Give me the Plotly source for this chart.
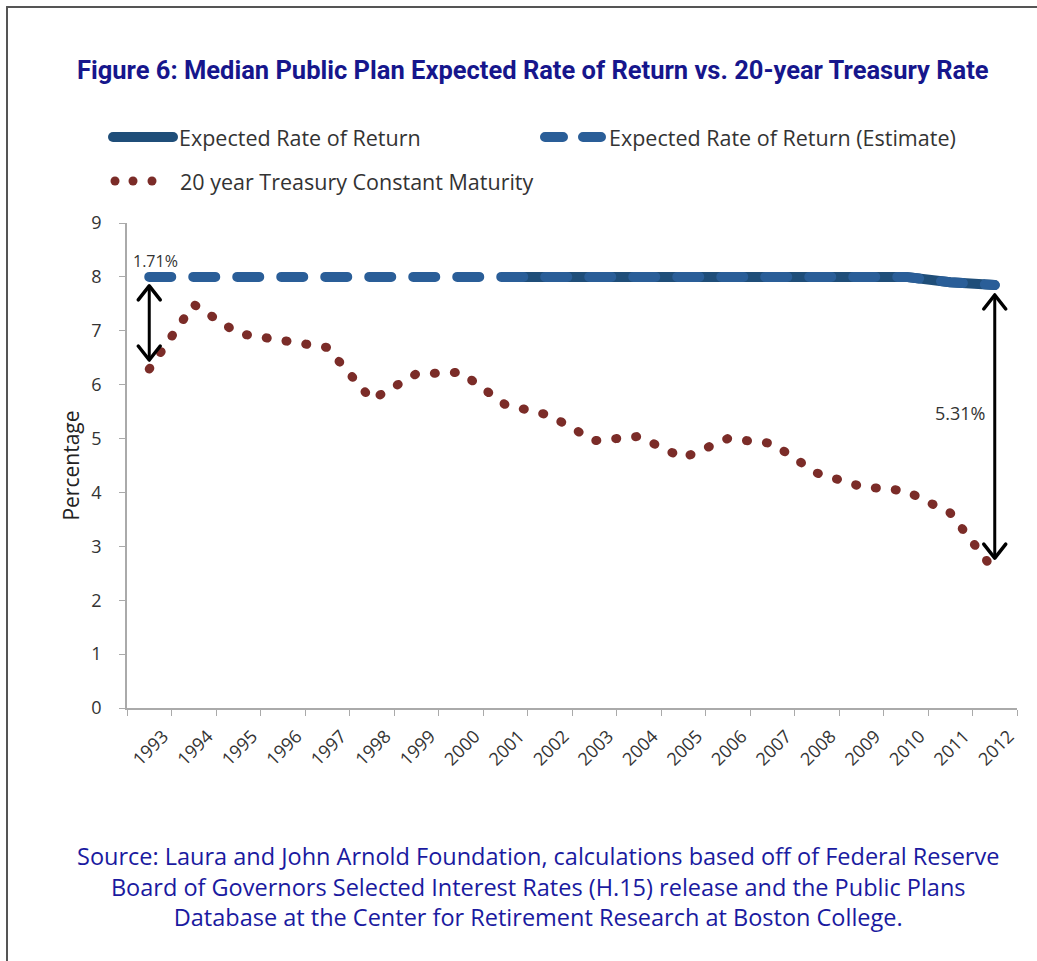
import plotly.graph_objects as go

# ---------------- data ----------------
years = [str(y) for y in range(1993, 2013)]
treasury_20yr = [6.29, 7.49, 6.95, 6.83, 6.69, 5.72, 6.20, 6.23, 5.63, 5.43,
                 4.96, 5.04, 4.64, 5.00, 4.91, 4.36, 4.11, 4.03, 3.62, 2.54]
expected_estimate = [8.0, 8.0, 8.0, 8.0, 8.0, 8.0, 8.0, 8.0, 8.0, 8.0,
                     8.0, 8.0, 8.0, 8.0, 8.0, 8.0, 8.0, 8.0, 7.90, 7.85]
expected_years = years[8:]
expected_actual = expected_estimate[8:]
y_ticks = list(range(0, 10))

title_text = "Figure 6: Median Public Plan Expected Rate of Return vs. 20-year Treasury Rate"
source_lines = ["Source: Laura and John Arnold Foundation, calculations based off of Federal Reserve",
                "Board of Governors Selected Interest Rates (H.15) release and the Public Plans",
                "Database at the Center for Retirement Research at Boston College."]
legend_names = ["Expected Rate of Return", "Expected Rate of Return (Estimate)",
                "20 year Treasury Constant Maturity"]

# ---------------- styling ----------------
W, H = 1037, 961
L, R, T, B = 127, 1017, 223, 708
DARK = "#1F4E79"
MID = "#2A5E98"
RED = "#7B2C28"
TXT = "#333333"
FONT = "Open Sans"


def px_x(px):
    return (px - L) / (R - L)


def px_y(py):
    return (B - py) / (B - T)


fig = go.Figure()
fig.add_trace(go.Scatter(x=expected_years, y=expected_actual, mode="lines",
                         name=legend_names[0], line=dict(color=DARK, width=10),
                         showlegend=False))
fig.add_trace(go.Scatter(x=years, y=expected_estimate, mode="lines",
                         name=legend_names[1], line=dict(color=MID, width=10, dash="22px,22px"),
                         showlegend=False))
fig.add_trace(go.Scatter(x=years, y=treasury_20yr, mode="lines",
                         name=legend_names[2], line=dict(color=RED, width=9, dash="1px,19px"),
                         showlegend=False))

shapes = []
annotations = []

# frame
shapes.append(dict(type="line", xref="paper", yref="paper", x0=px_x(7), x1=px_x(W + 5),
                   y0=px_y(7), y1=px_y(7), line=dict(color="#555555", width=2)))
shapes.append(dict(type="line", xref="paper", yref="paper", x0=px_x(7), x1=px_x(7),
                   y0=px_y(7), y1=px_y(H + 5), line=dict(color="#555555", width=2)))

# custom legend
shapes.append(dict(type="line", xref="paper", yref="paper", x0=px_x(113), x1=px_x(173),
                   y0=px_y(137), y1=px_y(137), line=dict(color=DARK, width=10)))
shapes.append(dict(type="line", xref="paper", yref="paper", x0=px_x(545), x1=px_x(601),
                   y0=px_y(137), y1=px_y(137), line=dict(color=MID, width=10, dash="18px,20px")))
for cx in (115, 133, 152):
    shapes.append(dict(type="circle", xref="paper", yref="paper",
                       xsizemode="pixel", ysizemode="pixel",
                       xanchor=px_x(cx), yanchor=px_y(181),
                       x0=-4.5, x1=4.5, y0=-4.5, y1=4.5,
                       fillcolor=RED, line=dict(width=0)))
for name, lx, ly in ((legend_names[0], 177, 137), (legend_names[1], 607, 137),
                     (legend_names[2], 178, 181)):
    annotations.append(dict(text=name, xref="paper", yref="paper", x=px_x(lx), y=px_y(ly),
                            xanchor="left", yanchor="middle", showarrow=False,
                            font=dict(family=FONT, size=21.5, color=TXT)))

# title and source
annotations.append(dict(text="<b>" + title_text + "</b>", xref="paper", yref="paper",
                        x=px_x(533), y=px_y(70), xanchor="center", yanchor="middle",
                        showarrow=False, font=dict(family="Roboto", size=25.5, color="#16168C")))
annotations.append(dict(text="<br>".join(source_lines), xref="paper", yref="paper",
                        x=px_x(538), y=px_y(886), xanchor="center", yanchor="middle",
                        showarrow=False, align="center",
                        font=dict(family=FONT, size=23.5, color="#1A1AA0")))


# gap arrows
def gap_arrow(idx, top, bottom, s_top, s_bot):
    annotations.append(dict(x=idx, y=bottom, ax=idx, ay=top, xref="x", yref="y",
                            axref="x", ayref="y", text="", showarrow=True, arrowhead=0,
                            arrowwidth=3, arrowcolor="black", standoff=s_bot,
                            startstandoff=s_top))
    shapes.append(dict(type="path", xref="x", yref="y", xsizemode="pixel", ysizemode="pixel",
                       xanchor=idx, yanchor=top,
                       path=f"M -11,{-s_top-14} L 0,{-s_top} L 11,{-s_top-14}",
                       line=dict(color="black", width=3.5)))
    shapes.append(dict(type="path", xref="x", yref="y", xsizemode="pixel", ysizemode="pixel",
                       xanchor=idx, yanchor=bottom,
                       path=f"M -11,{s_bot+14} L 0,{s_bot} L 11,{s_bot+14}",
                       line=dict(color="black", width=3.5)))


gap_arrow(0, expected_estimate[0], treasury_20yr[0], 9, 9)
gap_arrow(len(years) - 1, expected_estimate[-1], treasury_20yr[-1], 10, 13)

annotations.append(dict(text=f"{expected_estimate[0] - treasury_20yr[0]:.2f}%", x=0,
                        y=expected_estimate[0], xref="x", yref="y", xanchor="center",
                        yanchor="bottom", xshift=6, yshift=3, showarrow=False,
                        font=dict(family=FONT, size=16, color=TXT)))
annotations.append(dict(text=f"{expected_estimate[-1] - treasury_20yr[-1]:.2f}%",
                        x=len(years) - 1, y=5.47, xref="x", yref="y", xanchor="right",
                        yanchor="middle", xshift=-8, showarrow=False,
                        font=dict(family=FONT, size=18, color=TXT)))

fig.update_layout(
    width=W, height=H,
    margin=dict(l=L, r=W - R, t=T, b=H - B, pad=0),
    paper_bgcolor="white", plot_bgcolor="white",
    showlegend=False,
    shapes=shapes, annotations=annotations,
    font=dict(family=FONT, color=TXT),
)
fig.update_xaxes(type="category", categoryorder="array", categoryarray=years,
                 range=[-0.5, len(years) - 0.5], showgrid=False, zeroline=False,
                 showline=True, linecolor="#AAAAAA", linewidth=1.5,
                 ticks="outside", ticklen=6, tickcolor="#AAAAAA", tickwidth=1,
                 tickson="boundaries", tickangle=-45,
                 ticklabelstandoff=9, ticklabelshift=14,
                 tickfont=dict(family=FONT, size=18, color=TXT))
fig.update_yaxes(range=[0, 9], tickvals=y_ticks, showgrid=False, zeroline=False,
                 showline=True, linecolor="#AAAAAA", linewidth=1.5,
                 ticks="outside", ticklen=6, tickcolor="#AAAAAA", tickwidth=1,
                 ticklabelstandoff=14,
                 tickfont=dict(family=FONT, size=18, color=TXT),
                 title=dict(text="Percentage", standoff=6,
                            font=dict(family=FONT, size=21, color="#222222")))

post = """
document.body.style.margin = '0';
document.body.style.overflow = 'hidden';
var gd = document.getElementById('{plot_id}');
gd.querySelectorAll('.scatterlayer path.js-line, .shapelayer path').forEach(function(p){
  p.style.strokeLinecap = 'round';
  p.style.strokeLinejoin = 'round';
});
"""
fig.write_html("out.html", post_script=post, config={"displayModeBar": False})
